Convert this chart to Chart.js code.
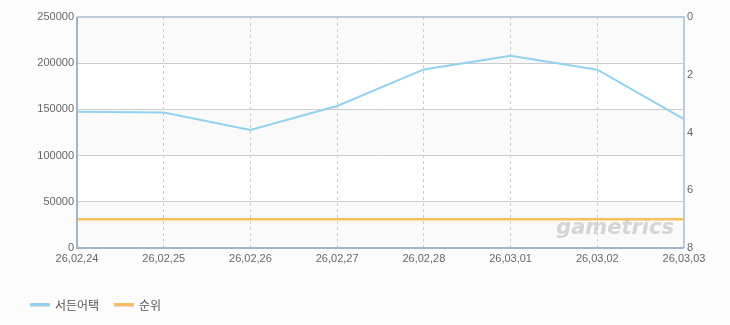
<!DOCTYPE html>
<html>
<head>
<meta charset="utf-8">
<script src="https://cdn.jsdelivr.net/npm/chart.js@4"></script>
<style>
  body { margin: 0; background: #fcfcfc; }
  .wrap { position: relative; width: 730px; height: 325px; }
  .legend { position: absolute; left: 30px; top: 293px; font: 12px "Noto Sans CJK KR", sans-serif; color: #555; }
  .legend span { display: inline-block; vertical-align: middle; }
  .legend .sw { width: 20px; height: 3px; margin-right: 5px; box-shadow: 0 1px 0 #ddd; }
  .legend .item { margin-right: 12px; }
</style>
</head>
<body>
<div class="wrap">
  <canvas id="chart" width="730" height="325"></canvas>
  <div class="legend">
    <span class="item"><span class="sw" style="background:#92d1f0"></span><span>서든어택</span></span>
    <span class="item"><span class="sw" style="background:#fbbd5e"></span><span>순위</span></span>
  </div>
</div>
<script>
// dates on the x axis
const labels = ['26,02,24', '26,02,25', '26,02,26', '26,02,27', '26,02,28', '26,03,01', '26,03,02', '26,03,03'];
// players (left axis)
const players = [147500, 146600, 127700, 153700, 193300, 208000, 193000, 139600];
// rank (right axis, reversed)
const rank = [7, 7, 7, 7, 7, 7, 7, 7];

const blue = '#92d1f0';
const orange = '#fbbd5e';

// alternating bands + border + watermark
const plotDeco = {
  id: 'plotDeco',
  beforeDraw(chart) {
    const { ctx, chartArea: a, scales } = chart;
    const y = scales.y;
    ctx.save();
    ctx.fillStyle = '#ffffff';
    ctx.fillRect(a.left, a.top, a.right - a.left, a.bottom - a.top);
    ctx.fillStyle = '#fafafa';
    for (let v = 0; v < 250000; v += 100000) {
      const y0 = y.getPixelForValue(v), y1 = y.getPixelForValue(v + 50000);
      ctx.fillRect(a.left, y1, a.right - a.left, y0 - y1);
    }
    ctx.restore();
  },
  beforeDatasetsDraw(chart) {
    const { ctx, chartArea: a } = chart;
    ctx.save();
    ctx.font = 'italic bold 21px "DejaVu Sans", sans-serif';
    ctx.fillStyle = 'rgba(175,175,175,0.5)';
    ctx.textAlign = 'right';
    ctx.textBaseline = 'alphabetic';
    ctx.fillText('gametrics', a.right - 10, a.bottom - 14);
    ctx.restore();
  },
  afterDraw(chart) {
    const { ctx, chartArea: a } = chart;
    ctx.save();
    ctx.lineWidth = 2;
    ctx.strokeStyle = '#bccbdc';
    ctx.beginPath();
    ctx.moveTo(a.left, a.top);
    ctx.lineTo(a.right, a.top);
    ctx.lineTo(a.right, a.bottom);
    ctx.stroke();
    ctx.strokeStyle = '#a3b4c9';
    ctx.beginPath();
    ctx.moveTo(a.left, a.top);
    ctx.lineTo(a.left, a.bottom);
    ctx.lineTo(a.right, a.bottom);
    ctx.stroke();
    ctx.restore();
  }
};

const tickFont = { family: '"Liberation Sans", Arial, sans-serif', size: 11 };

new Chart(document.getElementById('chart'), {
  type: 'line',
  data: {
    labels: labels,
    datasets: [{
      label: '서든어택',
      data: players,
      yAxisID: 'y',
      borderColor: blue,
      borderWidth: 2,
      pointRadius: 0,
      tension: 0
    }, {
      label: '순위',
      data: rank,
      yAxisID: 'y1',
      borderColor: orange,
      borderWidth: 2.5,
      pointRadius: 0,
      tension: 0
    }]
  },
  options: {
    responsive: false,
    animation: false,
    layout: { padding: { top: 17, bottom: 57, left: 0, right: 0 } },
    plugins: {
      legend: { display: false },
      tooltip: { enabled: false }
    },
    scales: {
      x: {
        offset: false,
        grid: { color: '#cccccc', tickLength: 0, drawTicks: false },
        border: { display: false, dash: [3, 3] },
        ticks: { color: '#666', font: tickFont, maxRotation: 0, autoSkip: false, padding: 4 },
        afterFit(s) { s.height = 20; }
      },
      y: {
        position: 'left',
        min: 0,
        max: 250000,
        ticks: { stepSize: 50000, color: '#666', font: tickFont, padding: 3, callback: v => String(v) },
        grid: { color: '#cccccc', drawTicks: false },
        border: { display: false },
        afterFit(s) { s.width = 77; }
      },
      y1: {
        position: 'right',
        reverse: true,
        min: 0,
        max: 8,
        ticks: { stepSize: 2, color: '#666', font: tickFont, padding: 3 },
        grid: { display: false, drawTicks: false },
        border: { display: false },
        afterFit(s) { s.width = 46; }
      }
    }
  },
  plugins: [plotDeco]
});
</script>
</body>
</html>
